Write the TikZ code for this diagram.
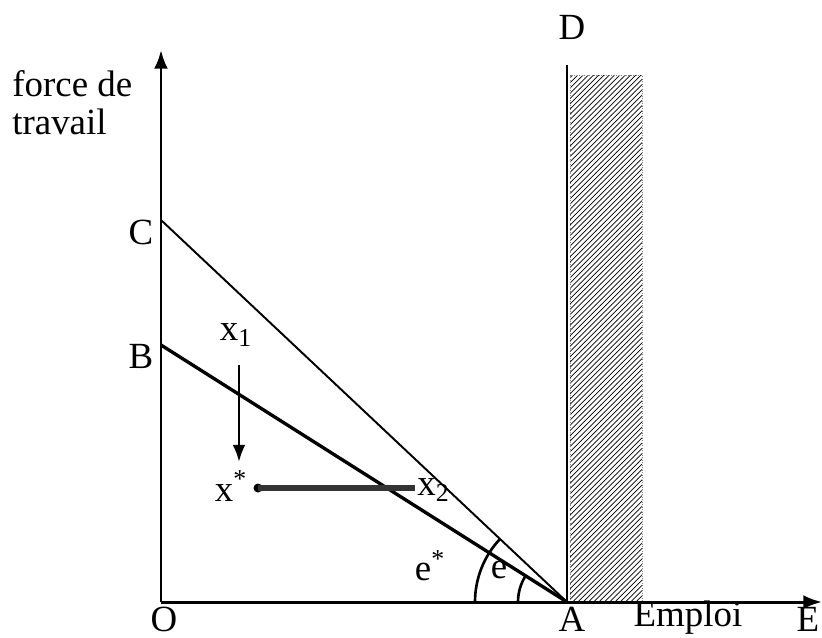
\documentclass[tikz,border=0pt]{standalone}
\usepackage{fontspec}
\setmainfont{Liberation Serif}
\usepackage{tikz}
\usetikzlibrary{arrows.meta,patterns}

\begin{document}
\begin{tikzpicture}[x=0.02cm, y=-0.02cm, >=Latex,
  lbl/.style={font=\fontsize{21}{22}\selectfont, inner sep=0pt},
  axis/.style={line width=1.7pt},
  budget/.style={line width=1.9pt},
  angarc/.style={line width=1.5pt}]
  \useasboundingbox (0,0) rectangle (822,637);
  % points
  \coordinate (O) at (161,602);
  \coordinate (A) at (567,602);
  \coordinate (C) at (161,220);
  \coordinate (B) at (161,345);
  \coordinate (Dtop) at (567,65);
  \coordinate (Etip) at (822,602);
  \coordinate (Ytip) at (161,50);
  % hatched zone right of A
  \fill[pattern=north east lines] (570,75) rectangle (642,602);
  \draw[gray, densely dotted, thin] (570,75) rectangle (642,602);
  % axes
  \draw[axis, ->] (O) -- (Ytip);
  \draw[axis, ->] (O) -- (Etip);
  \draw[axis] (A) -- (Dtop);
  % the two lines through A
  \draw[line width=1.1pt] (C) -- (A);
  \draw[budget] (B) -- (A);
  % angles (y axis points down, so angles turn the other way)
  \draw[angarc] (475,602) arc[start angle=180, end angle=223.4, radius=92];
  \draw[angarc] (518,602) arc[start angle=180, end angle=212.3, radius=49];
  % labels
  \node[lbl, align=left, anchor=north west] (ylab) at (12,70) {force de\\travail};
  \node[lbl] (Dl) at (572,27) {D};
  \node[lbl] (Cl) at (141,232) {C};
  \node[lbl] (Bl) at (141,356) {B};
  \node[lbl] (Ol) at (164,619) {O};
  \node[lbl] (Al) at (572,619) {A};
  \node[lbl] (emploi) at (688,618) {Emploi};
  \node[lbl] (El) at (808,619) {E};
  \node[lbl] (es) at (430,566) {e\textsuperscript{*}};
  \node[lbl] (e) at (499,570) {e};
  % adjustment of the point
  \node[lbl] (x1) at (236,335) {x\textsubscript{1}};
  \node[lbl] (xs) at (231,486) {x\textsuperscript{*}};
  \node[lbl, anchor=west] (x2) at (417,490) {x\textsubscript{2}};
  \coordinate (x1top) at (239,365);
  \coordinate (x1bot) at (239,462);
  \coordinate (xsdot) at (258,488);
  \coordinate (x2end) at (415,488);
  \draw[line width=1.5pt, ->] (x1top) -- (x1bot);
  \fill (xsdot) circle (4.5);
  \draw[line width=3pt, black!80] (xsdot) -- (x2end);
\end{tikzpicture}
\end{document}
